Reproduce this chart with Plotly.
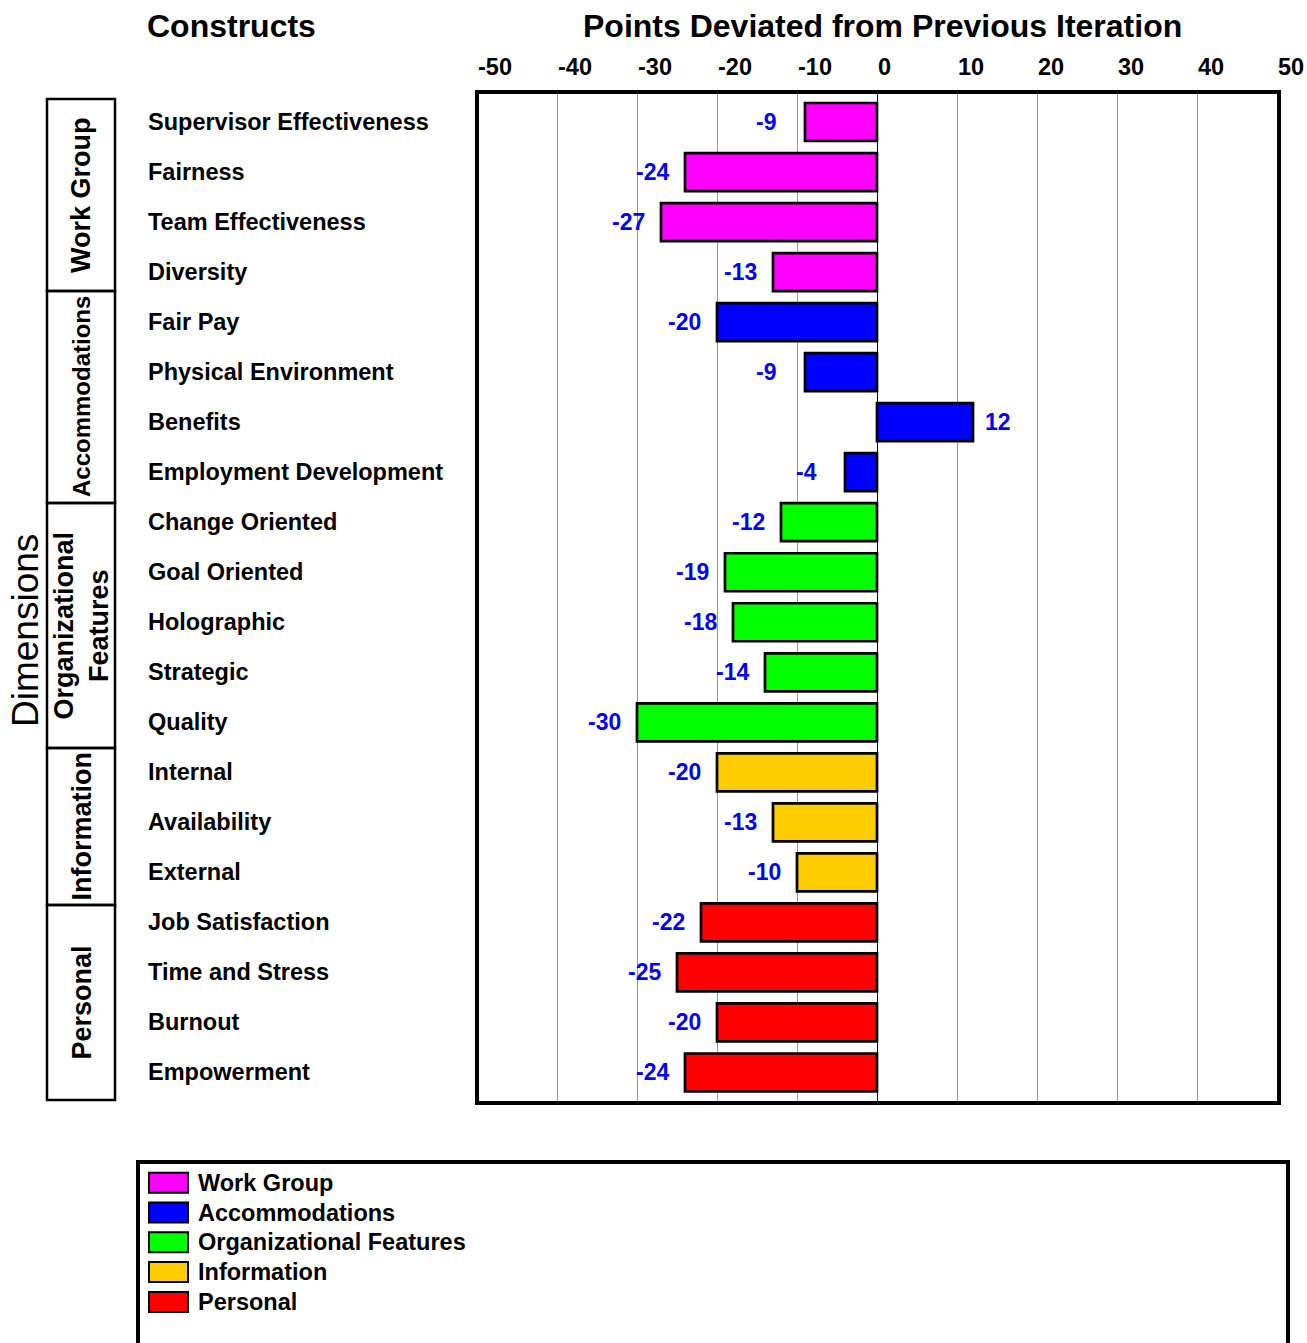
import plotly.graph_objects as go

# ---------------- data ----------------
dimensions = ["Work Group", "Accommodations", "Organizational Features", "Information", "Personal"]
dimension_colors = ["#FF00FF", "#0000FF", "#00FF00", "#FFCC00", "#FF0000"]

work_group = ["Supervisor Effectiveness", "Fairness", "Team Effectiveness", "Diversity"]
work_group_vals = [-9, -24, -27, -13]

accommodations = ["Fair Pay", "Physical Environment", "Benefits", "Employment Development"]
accommodations_vals = [-20, -9, 12, -4]

org_features = ["Change Oriented", "Goal Oriented", "Holographic", "Strategic", "Quality"]
org_features_vals = [-12, -19, -18, -14, -30]

information = ["Internal", "Availability", "External"]
information_vals = [-20, -13, -10]

personal = ["Job Satisfaction", "Time and Stress", "Burnout", "Empowerment"]
personal_vals = [-22, -25, -20, -24]

tick_values = [-50, -40, -30, -20, -10, 0, 10, 20, 30, 40, 50]
tick_labels = ["-50", "-40", "-30", "-20", "-10", "0", "10", "20", "30", "40", "50"]

box_labels = ["Work Group", "Accommodations", "Organizational<br>Features", "Information", "Personal"]

groups = [
    (work_group, work_group_vals),
    (accommodations, accommodations_vals),
    (org_features, org_features_vals),
    (information, information_vals),
    (personal, personal_vals),
]
all_categories = [c for cats, _ in groups for c in cats]

# ---------------- layout geometry (page pixels; body margin removed) ----------------
W, H = 1307, 1343
PLOT_L, PLOT_R, PLOT_T, PLOT_B = 477, 1279, 92, 1103
L, T = PLOT_L, PLOT_T
R = W - PLOT_R
B = H - PLOT_B
PW = W - L - R
PH = H - T - B
FONT = "Liberation Sans, Arial, sans-serif"


def xp(px):
    return (px - PLOT_L) / PW


def yp(py):
    return (PLOT_B - py) / PH


fig = go.Figure()

for (cats, vals), name, color in zip(groups, dimensions, dimension_colors):
    fig.add_trace(go.Bar(
        y=cats, x=vals, orientation="h", name=name,
        marker=dict(color=color, line=dict(color="black", width=2.7)),
        showlegend=False, hoverinfo="x+y",
    ))

annotations = []
shapes = []

# value labels
for cats, vals in groups:
    for c, v in zip(cats, vals):
        annotations.append(dict(
            x=v, y=c, xref="x", yref="y", text=f"<b>{v}</b>",
            showarrow=False, xanchor="left", yanchor="middle",
            xshift=-51 if v < 0 else 10,
            font=dict(family=FONT, size=23, color="#0000FF"),
        ))

# category labels (left aligned)
for c in all_categories:
    annotations.append(dict(
        x=xp(146), y=c, xref="paper", yref="y", text=f"<b>{c}</b>",
        showarrow=False, xanchor="left", yanchor="middle",
        font=dict(family=FONT, size=23.5, color="black"),
    ))

# top tick labels (left aligned on the tick)
for tv, tl in zip(tick_values, tick_labels):
    annotations.append(dict(
        x=tv, y=1, xref="x", yref="paper", text=f"<b>{tl}</b>",
        showarrow=False, xanchor="left", yanchor="middle",
        xshift=-1, yshift=PLOT_T - 66.5,
        font=dict(family=FONT, size=23.5, color="black"),
    ))

# titles
annotations.append(dict(
    x=xp(145), y=yp(26), xref="paper", yref="paper", text="<b>Constructs</b>",
    showarrow=False, xanchor="left", yanchor="middle",
    font=dict(family=FONT, size=32, color="black"),
))
annotations.append(dict(
    x=xp(882), y=yp(26), xref="paper", yref="paper",
    text="<b>Points Deviated from Previous Iteration</b>",
    showarrow=False, xanchor="center", yanchor="middle",
    font=dict(family=FONT, size=32, color="black"),
))
annotations.append(dict(
    x=xp(25), y=yp(631), xref="paper", yref="paper", text="Dimensions",
    showarrow=False, textangle=-90, xanchor="center", yanchor="middle",
    borderpad=0, borderwidth=0,
    font=dict(family=FONT, size=37, color="black"),
))

# dimension boxes
bounds = [99, 291, 503, 748, 905, 1100]
box_sizes = [27, 24, 27, 27, 27]
for i, lab in enumerate(box_labels):
    shapes.append(dict(
        type="rect", xref="paper", yref="paper",
        x0=xp(47), x1=xp(115), y0=yp(bounds[i + 1]), y1=yp(bounds[i]),
        line=dict(color="black", width=2.5), fillcolor="rgba(0,0,0,0)",
    ))
    annotations.append(dict(
        x=xp(81), y=yp((bounds[i] + bounds[i + 1]) / 2), xref="paper", yref="paper",
        text=f"<b>{lab}</b>", showarrow=False, textangle=-90,
        xanchor="center", yanchor="middle",
        font=dict(family=FONT, size=box_sizes[i], color="black"),
    ))

# plot frame
shapes.append(dict(
    type="rect", xref="paper", yref="paper", x0=0, x1=1, y0=0, y1=1,
    line=dict(color="black", width=4), fillcolor="rgba(0,0,0,0)", layer="above",
))

# custom legend
shapes.append(dict(
    type="rect", xref="paper", yref="paper",
    x0=xp(138), x1=xp(1288), y0=yp(1360), y1=yp(1162),
    line=dict(color="black", width=4), fillcolor="rgba(0,0,0,0)",
))
for i, (name, color) in enumerate(zip(dimensions, dimension_colors)):
    cy = 1182.7 + 29.8 * i
    shapes.append(dict(
        type="rect", xref="paper", yref="paper",
        x0=xp(149), x1=xp(188), y0=yp(cy + 10), y1=yp(cy - 10),
        line=dict(color="black", width=2), fillcolor=color,
    ))
    annotations.append(dict(
        x=xp(196), y=yp(cy), xref="paper", yref="paper", text=f"<b>{name}</b>",
        showarrow=False, xanchor="left", yanchor="middle",
        font=dict(family=FONT, size=23.5, color="black"),
    ))

fig.update_layout(
    width=W, height=H,
    margin=dict(l=L, r=R, t=T, b=B, pad=0),
    paper_bgcolor="white", plot_bgcolor="white",
    barmode="overlay", bargap=0.24,
    font=dict(family=FONT, color="black"),
    annotations=annotations, shapes=shapes,
    showlegend=False,
    xaxis=dict(
        range=[-50, 50.25], tickvals=tick_values, showticklabels=False,
        showgrid=True, gridcolor="#999999", gridwidth=1,
        zeroline=True, zerolinecolor="black", zerolinewidth=1,
        showline=False, ticks="", fixedrange=True,
    ),
    yaxis=dict(
        type="category", categoryorder="array", categoryarray=all_categories,
        range=[19.61, -0.6], showticklabels=False, showgrid=False,
        zeroline=False, showline=False, ticks="", fixedrange=True,
    ),
)

fig.write_html(
    "out.html",
    config={"displayModeBar": False, "staticPlot": True},
    post_script="document.body.style.margin='0';document.body.style.overflow='hidden';",
)
